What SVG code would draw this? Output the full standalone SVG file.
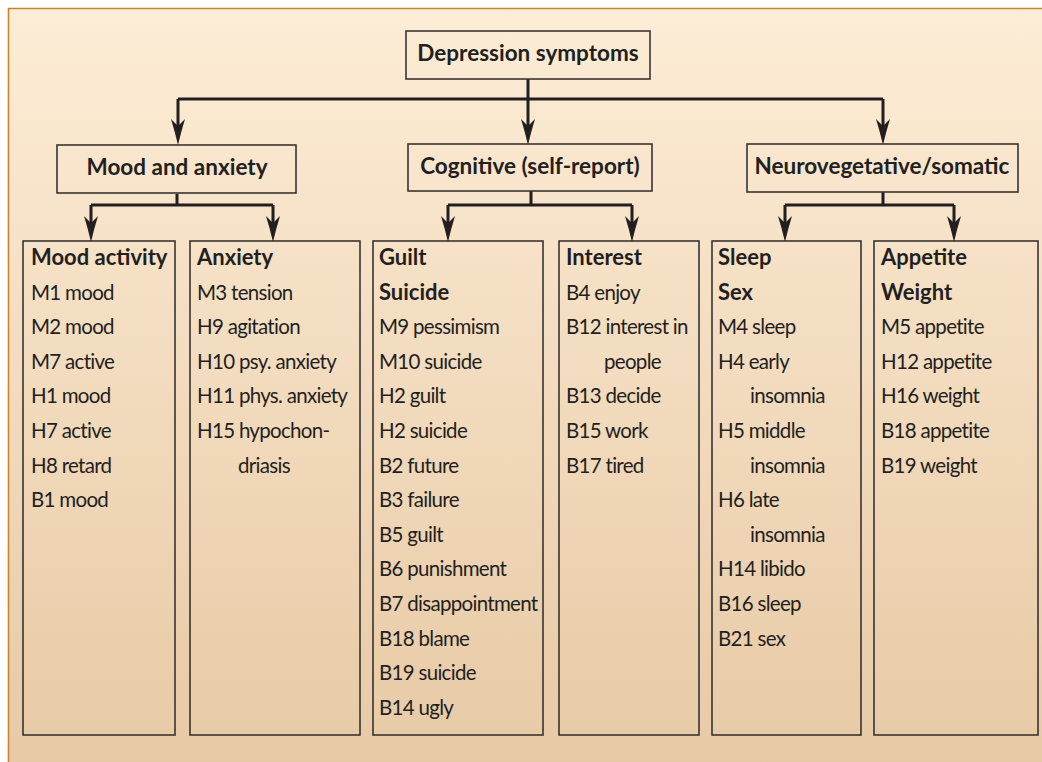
<svg xmlns="http://www.w3.org/2000/svg" width="1042" height="762" viewBox="0 0 1042 762">
<defs>
<linearGradient id="bg" x1="0" y1="0" x2="0" y2="1">
<stop offset="0" stop-color="#FDEDD6"/>
<stop offset="1" stop-color="#E7C9A5"/>
</linearGradient>
<marker id="arr" viewBox="0 0 26 14" refX="13" refY="7" markerWidth="26" markerHeight="14" markerUnits="userSpaceOnUse" orient="auto">
<path d="M0,0 Q13,4 26,7 Q13,10 0,14 L7,7 Z" fill="#231f20"/>
</marker>
</defs>
<style>
.box{fill:none;stroke:#3a3431;stroke-width:1.6}
.con{fill:none;stroke:#231f20;stroke-width:3}
text{font-family:Lato,"Open Sans","DejaVu Sans",sans-serif;fill:#231f20}
.t{font-size:22.5px;font-weight:bold}
.h{font-size:22px;font-weight:bold}
.b{font-size:20.5px;letter-spacing:-0.7px}
</style>
<rect x="0" y="0" width="1042" height="762" fill="#ffffff"/>
<rect x="8" y="8" width="1040" height="760" fill="url(#bg)"/>
<path d="M8.5,762 V8.5 H1042" fill="none" stroke="#C8862C" stroke-width="1.6"/>

<g id="connectors">
<path class="con" d="M528,79 V99 M178,99 H883 M178,99 V131 M528,99 V131 M883,99 V131" />
<path class="con" d="M178,131 V132" marker-end="url(#arr)"/>
<path class="con" d="M528,131 V132" marker-end="url(#arr)"/>
<path class="con" d="M883,131 V132" marker-end="url(#arr)"/>
<path class="con" d="M177,194 V205 M91,205 H273 M91,205 V228 M273,205 V228 M531,191 V205 M448,205 H632 M448,205 V228 M632,205 V228 M883,192 V205 M785,205 H954 M785,205 V228 M954,205 V228"/>
<path class="con" d="M91,228 V229" marker-end="url(#arr)"/>
<path class="con" d="M273,228 V229" marker-end="url(#arr)"/>
<path class="con" d="M448,228 V229" marker-end="url(#arr)"/>
<path class="con" d="M632,228 V229" marker-end="url(#arr)"/>
<path class="con" d="M785,228 V229" marker-end="url(#arr)"/>
<path class="con" d="M954,228 V229" marker-end="url(#arr)"/>
</g>

<g id="depression-symptoms">
<rect class="box" x="406" y="31" width="244" height="48"/>
<text class="t" x="528" y="61" text-anchor="middle">Depression symptoms</text>
</g>
<g id="mood-and-anxiety">
<rect class="box" x="57" y="145" width="239" height="48"/>
<text class="t" x="177" y="175" text-anchor="middle">Mood and anxiety</text>
</g>
<g id="cognitive">
<rect class="box" x="408" y="144" width="244" height="47"/>
<text class="t" x="530" y="174" text-anchor="middle">Cognitive (self-report)</text>
</g>
<g id="neurovegetative">
<rect class="box" x="747" y="144" width="271" height="48"/>
<text class="t" x="882" y="174" text-anchor="middle">Neurovegetative/somatic</text>
</g>

<g id="mood-activity">
<rect class="box" x="23" y="241" width="152" height="494"/>
<text class="h" x="31" y="265">Mood activity</text>
<text class="b" x="31" y="299.6">M1 mood</text>
<text class="b" x="31" y="334.2">M2 mood</text>
<text class="b" x="31" y="368.8">M7 active</text>
<text class="b" x="31" y="403.4">H1 mood</text>
<text class="b" x="31" y="438">H7 active</text>
<text class="b" x="31" y="472.6">H8 retard</text>
<text class="b" x="31" y="507.2">B1 mood</text>
</g>
<g id="anxiety">
<rect class="box" x="190" y="241" width="170" height="494"/>
<text class="h" x="197" y="265">Anxiety</text>
<text class="b" x="197" y="299.6">M3 tension</text>
<text class="b" x="197" y="334.2">H9 agitation</text>
<text class="b" x="197" y="368.8">H10 psy. anxiety</text>
<text class="b" x="197" y="403.4">H11 phys. anxiety</text>
<text class="b" x="197" y="438">H15 hypochon-</text>
<text class="b" x="238" y="472.6">driasis</text>
</g>
<g id="guilt-suicide">
<rect class="box" x="373" y="241" width="170" height="494"/>
<text class="h" x="379" y="265">Guilt</text>
<text class="h" x="379" y="299.6">Suicide</text>
<text class="b" x="379" y="334.2">M9 pessimism</text>
<text class="b" x="379" y="368.8">M10 suicide</text>
<text class="b" x="379" y="403.4">H2 guilt</text>
<text class="b" x="379" y="438">H2 suicide</text>
<text class="b" x="379" y="472.6">B2 future</text>
<text class="b" x="379" y="507.2">B3 failure</text>
<text class="b" x="379" y="541.8">B5 guilt</text>
<text class="b" x="379" y="576.4">B6 punishment</text>
<text class="b" x="379" y="611">B7 disappointment</text>
<text class="b" x="379" y="645.6">B18 blame</text>
<text class="b" x="379" y="680.2">B19 suicide</text>
<text class="b" x="379" y="714.8">B14 ugly</text>
</g>
<g id="interest">
<rect class="box" x="559" y="241" width="140" height="494"/>
<text class="h" x="566" y="265">Interest</text>
<text class="b" x="566" y="299.6">B4 enjoy</text>
<text class="b" x="566" y="334.2">B12 interest in</text>
<text class="b" x="604" y="368.8">people</text>
<text class="b" x="566" y="403.4">B13 decide</text>
<text class="b" x="566" y="438">B15 work</text>
<text class="b" x="566" y="472.6">B17 tired</text>
</g>
<g id="sleep-sex">
<rect class="box" x="712" y="241" width="149" height="494"/>
<text class="h" x="718" y="265">Sleep</text>
<text class="h" x="718" y="299.6">Sex</text>
<text class="b" x="718" y="334.2">M4 sleep</text>
<text class="b" x="718" y="368.8">H4 early</text>
<text class="b" x="750" y="403.4">insomnia</text>
<text class="b" x="718" y="438">H5 middle</text>
<text class="b" x="750" y="472.6">insomnia</text>
<text class="b" x="718" y="507.2">H6 late</text>
<text class="b" x="750" y="541.8">insomnia</text>
<text class="b" x="718" y="576.4">H14 libido</text>
<text class="b" x="718" y="611">B16 sleep</text>
<text class="b" x="718" y="645.6">B21 sex</text>
</g>
<g id="appetite-weight">
<rect class="box" x="874" y="241" width="164" height="494"/>
<text class="h" x="881" y="265">Appetite</text>
<text class="h" x="881" y="299.6">Weight</text>
<text class="b" x="881" y="334.2">M5 appetite</text>
<text class="b" x="881" y="368.8">H12 appetite</text>
<text class="b" x="881" y="403.4">H16 weight</text>
<text class="b" x="881" y="438">B18 appetite</text>
<text class="b" x="881" y="472.6">B19 weight</text>
</g>
</svg>
